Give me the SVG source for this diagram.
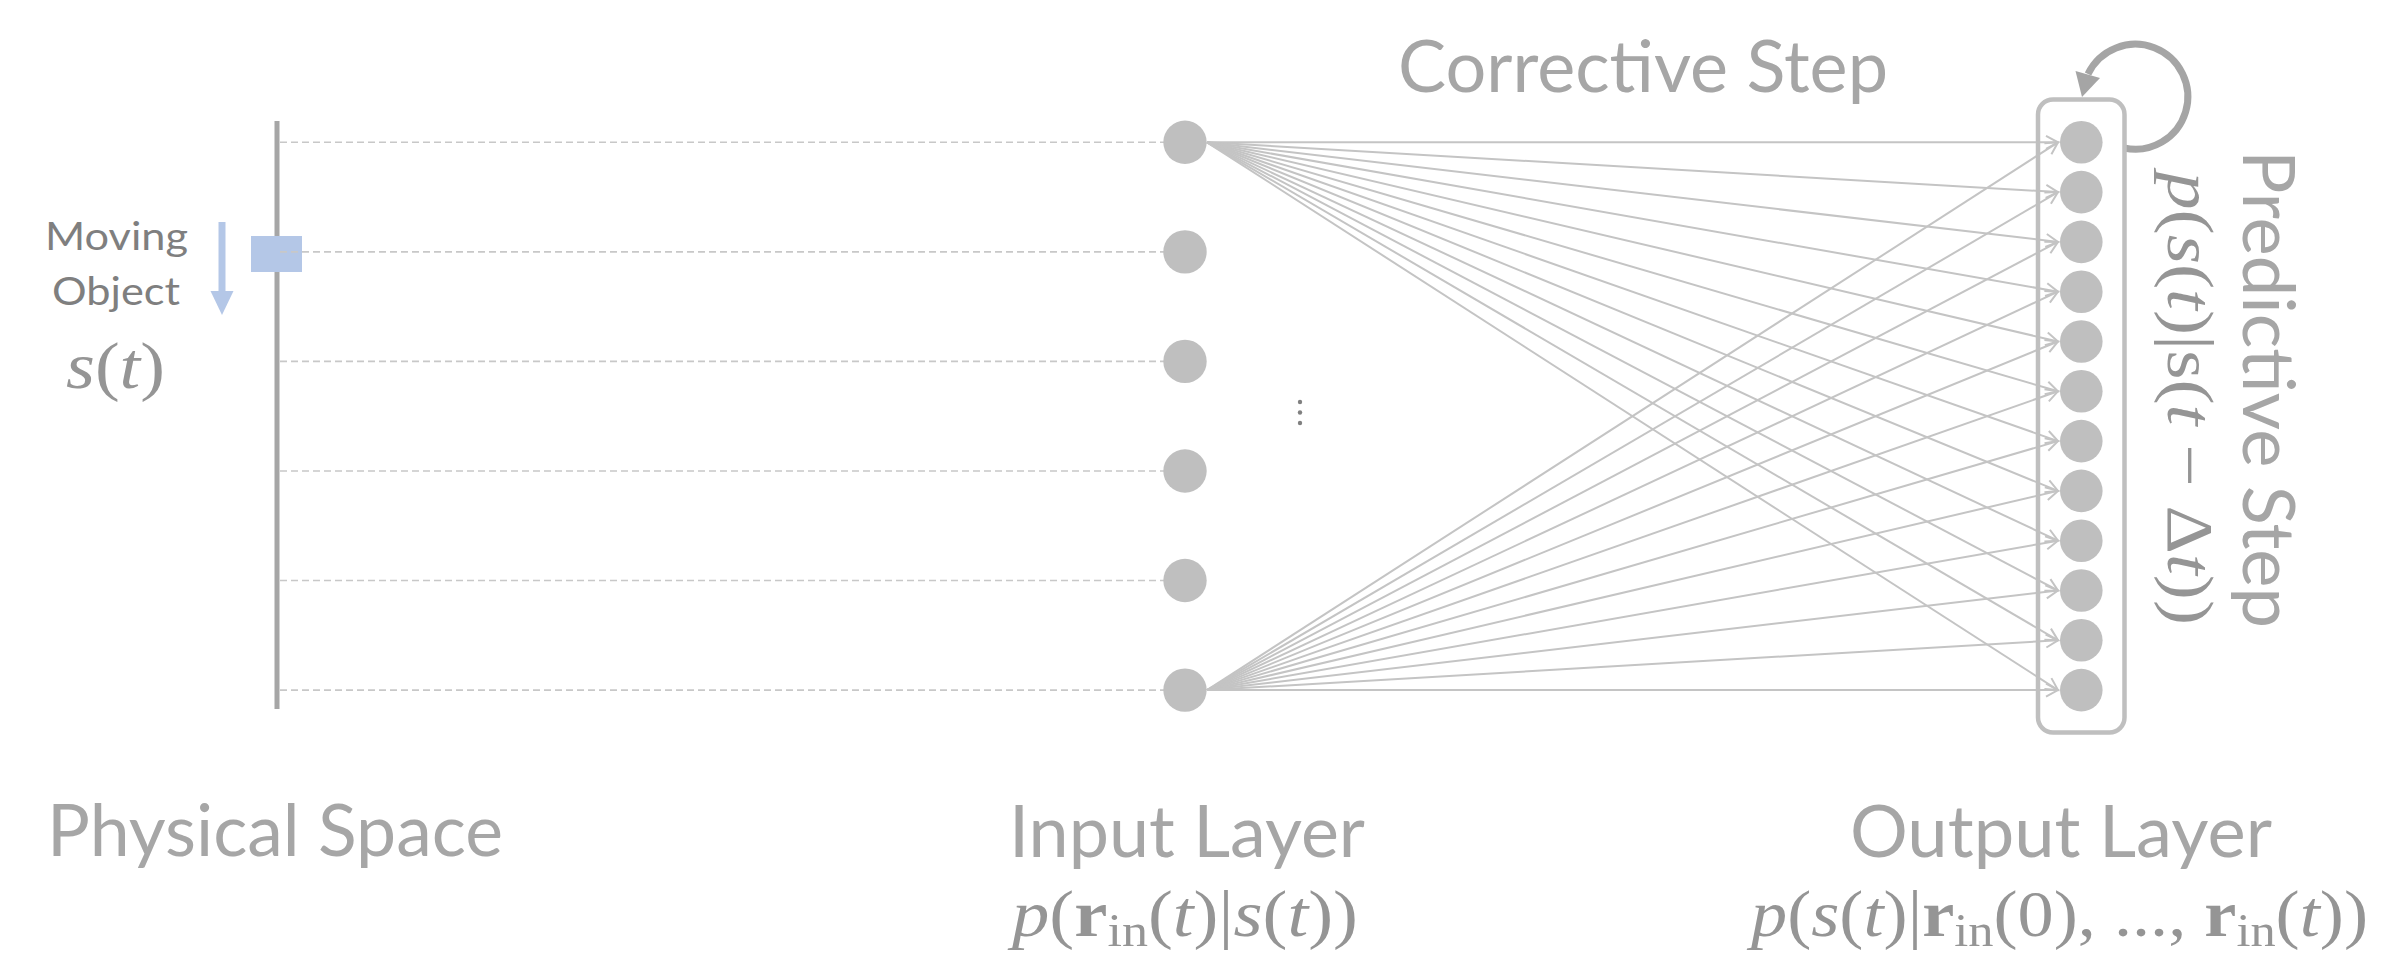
<svg xmlns="http://www.w3.org/2000/svg" width="2391" height="956" viewBox="0 0 2391 956">
<style>
.title{font-family:Lato,"Liberation Sans",sans-serif;font-size:71px;fill:#a6a6a6}
.small{font-family:Lato,"Liberation Sans",sans-serif;font-size:39px;fill:#7f7f7f}
.math{font-family:"Liberation Serif","DejaVu Serif",serif;font-size:66px;fill:#959595}
.it{font-style:italic}
.bf{font-weight:bold}
.dash{stroke:#c8c8c8;stroke-width:1.6;stroke-dasharray:7,4;fill:none}
.conn{stroke:#c4c4c4;stroke-width:2;fill:none;marker-end:url(#chev)}
.in{fill:#bfbfbf}
.out{fill:#bfbfbf}
</style>
<defs>
<marker id="chev" markerUnits="userSpaceOnUse" markerWidth="16" markerHeight="16" refX="13" refY="7" orient="auto" overflow="visible">
<path d="M1,0.5 L13,7 L1,13.5" fill="none" stroke="#c4c4c4" stroke-width="2"/>
</marker>
</defs>
<rect width="2391" height="956" fill="#ffffff"/>

<g id="physical-space">
<line x1="277" y1="121" x2="277" y2="709" stroke="#a6a6a6" stroke-width="5"/>
<rect id="object" x="251" y="236" width="51" height="36" fill="#b4c7e7"/>
<line class="dash" x1="280" y1="142.3" x2="1164" y2="142.3"/>
<line class="dash" x1="280" y1="251.9" x2="1164" y2="251.9"/>
<line class="dash" x1="280" y1="361.4" x2="1164" y2="361.4"/>
<line class="dash" x1="280" y1="471" x2="1164" y2="471"/>
<line class="dash" x1="280" y1="580.5" x2="1164" y2="580.5"/>
<line class="dash" x1="280" y1="690.1" x2="1164" y2="690.1"/>
<line x1="222" y1="222" x2="222" y2="293" stroke="#b4c7e7" stroke-width="7"/>
<polygon points="210.5,291 233.5,291 222,315" fill="#b4c7e7"/>
<text class="small" x="45" y="250" textLength="143" lengthAdjust="spacingAndGlyphs">Moving</text>
<text class="small" x="52" y="305" textLength="128" lengthAdjust="spacingAndGlyphs">Object</text>
<text class="math" x="66" y="388" font-size="68" fill="#858585" textLength="99" lengthAdjust="spacingAndGlyphs"><tspan class="it">s</tspan>(<tspan class="it">t</tspan>)</text>
<text class="title" x="47" y="856" textLength="456" lengthAdjust="spacingAndGlyphs">Physical Space</text>
</g>

<g id="connectors">
<line class="conn" x1="1207" y1="142.3" x2="2058" y2="142.3"/>
<line class="conn" x1="1207" y1="142.3" x2="2058" y2="192.1"/>
<line class="conn" x1="1207" y1="142.3" x2="2058" y2="241.9"/>
<line class="conn" x1="1207" y1="142.3" x2="2058" y2="291.7"/>
<line class="conn" x1="1207" y1="142.3" x2="2058" y2="341.5"/>
<line class="conn" x1="1207" y1="142.3" x2="2058" y2="391.3"/>
<line class="conn" x1="1207" y1="142.3" x2="2058" y2="441.1"/>
<line class="conn" x1="1207" y1="142.3" x2="2058" y2="490.9"/>
<line class="conn" x1="1207" y1="142.3" x2="2058" y2="540.7"/>
<line class="conn" x1="1207" y1="142.3" x2="2058" y2="590.5"/>
<line class="conn" x1="1207" y1="142.3" x2="2058" y2="640.3"/>
<line class="conn" x1="1207" y1="142.3" x2="2058" y2="690.1"/>
<line class="conn" x1="1207" y1="690.1" x2="2058" y2="142.3"/>
<line class="conn" x1="1207" y1="690.1" x2="2058" y2="192.1"/>
<line class="conn" x1="1207" y1="690.1" x2="2058" y2="241.9"/>
<line class="conn" x1="1207" y1="690.1" x2="2058" y2="291.7"/>
<line class="conn" x1="1207" y1="690.1" x2="2058" y2="341.5"/>
<line class="conn" x1="1207" y1="690.1" x2="2058" y2="391.3"/>
<line class="conn" x1="1207" y1="690.1" x2="2058" y2="441.1"/>
<line class="conn" x1="1207" y1="690.1" x2="2058" y2="490.9"/>
<line class="conn" x1="1207" y1="690.1" x2="2058" y2="540.7"/>
<line class="conn" x1="1207" y1="690.1" x2="2058" y2="590.5"/>
<line class="conn" x1="1207" y1="690.1" x2="2058" y2="640.3"/>
<line class="conn" x1="1207" y1="690.1" x2="2058" y2="690.1"/>
<path d="M2124,148 A52.5,52.5 0 1 0 2088,74" fill="none" stroke="#a5a5a5" stroke-width="7"/>
<polygon points="2082,97 2075.5,71 2100,78" fill="#a5a5a5"/>
</g>

<g id="input-layer">
<circle class="in" cx="1185" cy="142.3" r="21.7"/>
<circle class="in" cx="1185" cy="251.9" r="21.7"/>
<circle class="in" cx="1185" cy="361.4" r="21.7"/>
<circle class="in" cx="1185" cy="471" r="21.7"/>
<circle class="in" cx="1185" cy="580.5" r="21.7"/>
<circle class="in" cx="1185" cy="690.1" r="21.7"/>
<circle cx="1300" cy="402" r="2.2" fill="#808080"/>
<circle cx="1300" cy="412.5" r="2.2" fill="#808080"/>
<circle cx="1300" cy="423" r="2.2" fill="#808080"/>
<text class="title" x="1009" y="857" textLength="356" lengthAdjust="spacingAndGlyphs">Input Layer</text>
<text class="math" x="1012" y="936" textLength="346" lengthAdjust="spacingAndGlyphs"><tspan class="it">p</tspan>(<tspan class="bf">r</tspan><tspan font-size="46" dy="10">in</tspan><tspan dy="-10">(</tspan><tspan class="it">t</tspan>)|<tspan class="it">s</tspan>(<tspan class="it">t</tspan>))</text>
</g>

<g id="output-layer">
<rect x="2038" y="99.5" width="86.5" height="633" rx="15" fill="none" stroke="#bfbfbf" stroke-width="4.5"/>
<circle class="out" cx="2081.3" cy="142.3" r="21.3"/>
<circle class="out" cx="2081.3" cy="192.1" r="21.3"/>
<circle class="out" cx="2081.3" cy="241.9" r="21.3"/>
<circle class="out" cx="2081.3" cy="291.7" r="21.3"/>
<circle class="out" cx="2081.3" cy="341.5" r="21.3"/>
<circle class="out" cx="2081.3" cy="391.3" r="21.3"/>
<circle class="out" cx="2081.3" cy="441.1" r="21.3"/>
<circle class="out" cx="2081.3" cy="490.9" r="21.3"/>
<circle class="out" cx="2081.3" cy="540.7" r="21.3"/>
<circle class="out" cx="2081.3" cy="590.5" r="21.3"/>
<circle class="out" cx="2081.3" cy="640.3" r="21.3"/>
<circle class="out" cx="2081.3" cy="690.1" r="21.3"/>
<text class="title" x="1850" y="857" textLength="422" lengthAdjust="spacingAndGlyphs">Output Layer</text>
<text class="math" x="1751" y="936" textLength="617" lengthAdjust="spacingAndGlyphs"><tspan class="it">p</tspan>(<tspan class="it">s</tspan>(<tspan class="it">t</tspan>)|<tspan class="bf">r</tspan><tspan font-size="46" dy="10">in</tspan><tspan dy="-10">(0), ..., </tspan><tspan class="bf">r</tspan><tspan font-size="46" dy="10">in</tspan><tspan dy="-10">(</tspan><tspan class="it">t</tspan>))</text>
</g>

<g id="corrective-step">
<text class="title" x="1398" y="91.7" textLength="490" lengthAdjust="spacingAndGlyphs">Corrective Step</text>
</g>

<g id="predictive-step">
<text class="title" transform="translate(2243,150) rotate(90)" x="0" y="0" textLength="478" lengthAdjust="spacingAndGlyphs">Predictive Step</text>
<text class="math" transform="translate(2168,172) rotate(90)" x="0" y="0" fill="#a8a8a8" textLength="453" lengthAdjust="spacingAndGlyphs"><tspan class="it">p</tspan>(<tspan class="it">s</tspan>(<tspan class="it">t</tspan>)|s(<tspan class="it">t</tspan> − Δ<tspan class="it">t</tspan>))</text>
</g>
</svg>
